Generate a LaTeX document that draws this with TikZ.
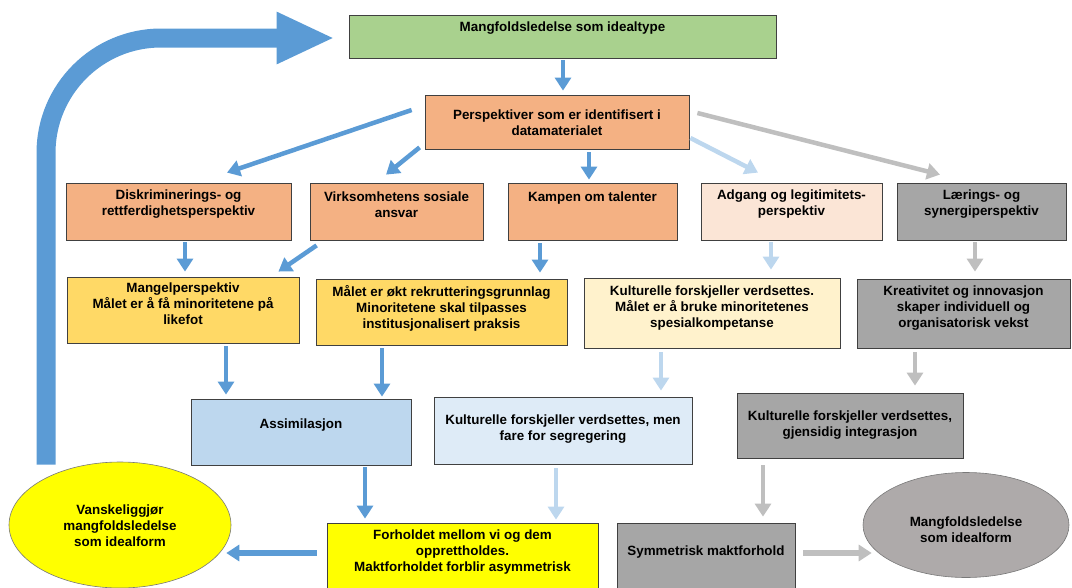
\documentclass[tikz,border=0pt]{standalone}
\usepackage{fontspec}
\setmainfont{Liberation Sans}
\usetikzlibrary{arrows.meta,calc,shapes.geometric}
\definecolor{cgreen}{HTML}{A9D18E}
\definecolor{corange}{HTML}{F4B183}
\definecolor{cpeach}{HTML}{FBE5D6}
\definecolor{cgold}{HTML}{FFD966}
\definecolor{clyellow}{HTML}{FFF2CC}
\definecolor{cgray}{HTML}{A6A6A6}
\definecolor{cblue}{HTML}{BDD7EE}
\definecolor{clblue}{HTML}{DEEBF7}
\definecolor{cyellow}{HTML}{FFFF00}
\definecolor{cegray}{HTML}{AEAAAA}
\definecolor{abl}{HTML}{5B9BD5}
\definecolor{alb}{HTML}{BDD7EE}
\definecolor{agr}{HTML}{BFBFBF}
\definecolor{cedge}{HTML}{404040}
\tikzset{
  box/.style={draw=cedge, line width=0.8pt, rectangle, inner sep=0pt},
  oval/.style={draw=cedge!70, line width=0.6pt, ellipse, inner sep=0pt},
  txt/.style={align=center, inner sep=0pt, font=\fontsize{13.4}{16}\selectfont\bfseries},
  arr/.style={line width=4.5pt, -{Triangle[length=13pt,width=16pt]}},
  blue arr/.style={arr, draw=abl, fill=abl},
  light arr/.style={arr, draw=alb, fill=alb},
  gray arr/.style={arr, draw=agr, fill=agr},
  bigarr/.style={draw=abl, line width=19pt, rounded corners=115pt, -{Triangle[length=58pt,width=48pt]}}
}
\begin{document}
\begin{tikzpicture}[x=1pt,y=-1pt]
\clip (0,0) rectangle (1072,587);
% boxes
\node[box, fill=cgreen, minimum width=427pt, minimum height=43pt] (G) at (562.5,36.5) {};
\node[txt] (Gt) at (562.5,28) {Mangfoldsledelse som idealtype};
\node[box, fill=corange, minimum width=264pt, minimum height=54pt] (O) at (557,122) {};
\node[txt] (Ot) at (557,123) {Perspektiver som er identifisert i\\datamaterialet};

\node[box, fill=corange, minimum width=225pt, minimum height=57pt] (D) at (178.5,211.5) {};
\node[txt] (Dt) at (178.5,204.5) {Diskriminerings- og\\rettferdighetsperspektiv};
\node[box, fill=corange, minimum width=173pt, minimum height=57pt] (V) at (396.5,211.5) {};
\node[txt] (Vt) at (396.5,204.5) {Virksomhetens sosiale\\ansvar};
\node[box, fill=corange, minimum width=169pt, minimum height=57pt] (K) at (592.5,211.5) {};
\node[txt] (Kt) at (592.5,198) {Kampen om talenter};
\node[box, fill=cpeach, minimum width=181pt, minimum height=57pt] (A) at (791.5,211.5) {};
\node[txt] (At) at (791.5,204.5) {Adgang og legitimitets-\\perspektiv};
\node[box, fill=cgray, minimum width=169pt, minimum height=57pt] (L) at (981.5,211.5) {};
\node[txt] (Lt) at (981.5,204.5) {Lærings- og\\synergiperspektiv};

\node[box, fill=cgold, minimum width=232pt, minimum height=66pt] (M) at (183,310) {};
\node[txt] (Mt) at (183,303.5) {Mangelperspektiv\\Målet er å få minoritetene på\\likefot};
\node[box, fill=cgold, minimum width=251pt, minimum height=66pt] (R) at (441.5,312) {};
\node[txt] (Rt) at (441.5,308) {Målet er økt rekrutteringsgrunnlag\\Minoritetene skal tilpasses\\institusjonalisert praksis};
\node[box, fill=clyellow, minimum width=256pt, minimum height=70pt] (C) at (712,313) {};
\node[txt] (Ct) at (712,308.5) {Kulturelle forskjeller verdsettes.\\Målet er å bruke minoritetenes\\spesialkompetanse};
\node[box, fill=cgray, minimum width=213pt, minimum height=69pt] (KR) at (963.5,313.5) {};
\node[txt] (KRt) at (963.5,308.5) {Kreativitet og innovasjon\\skaper individuell og\\organisatorisk vekst};

\node[box, fill=cblue, minimum width=220pt, minimum height=66pt] (AS) at (301,432) {};
\node[txt] (ASt) at (301,425) {Assimilasjon};
\node[box, fill=clblue, minimum width=258pt, minimum height=67pt] (S) at (563,430.5) {};
\node[txt] (St) at (563,429.5) {Kulturelle forskjeller verdsettes, men\\fare for segregering};
\node[box, fill=cgray, minimum width=226pt, minimum height=65pt] (GJ) at (850,425.5) {};
\node[txt] (GJt) at (850,425) {Kulturelle forskjeller verdsettes,\\gjensidig integrasjon};

\node[oval, fill=cyellow, minimum width=222pt, minimum height=126pt] (Y) at (120,525) {};
\node[txt] (Yt) at (120,526) {Vanskeliggjør\\mangfoldsledelse\\som idealform};
\node[box, fill=cyellow, minimum width=271pt, minimum height=69pt] (F) at (462.5,557.5) {};
\node[txt] (Ft) at (462.5,552.5) {Forholdet mellom vi og dem\\opprettholdes.\\Maktforholdet forblir asymmetrisk};
\node[box, fill=cgray, minimum width=178pt, minimum height=69pt] (SY) at (706,557.5) {};
\node[txt] (SYt) at (706,552) {Symmetrisk maktforhold};
\node[oval, fill=cegray, minimum width=206pt, minimum height=105pt] (GE) at (966,525) {};
\node[txt] (GEt) at (966,529.5) {Mangfoldsledelse\\som idealform};

% big feedback arrow
\draw[bigarr] ($(Y.north)+(-74,3)$) |- ($(G.west)+(-14,1.5)$);

% connectors
\draw[blue arr] ($(G.south)+(0.5,2)$) -- ($(O.north)+(6,-4)$);
\draw[blue arr] ($(O.west)+(-13,-12)$) -- ($(D.north)+(48.5,-10)$);
\draw[blue arr] ($(O.south west)+(-5,-2)$) -- ($(V.north)+(-10.5,-8)$);
\draw[blue arr] ($(O.south)+(32,3)$) -- ($(K.north)+(-3.5,-3)$);
\draw[light arr] ($(O.east)+(1,16)$) -- ($(A.north)+(-33.5,-10)$);
\draw[gray arr] ($(O.east)+(8,-9)$) -- ($(L.north)+(-41.5,-8)$);

\draw[blue arr] ($(D.south)+(6.5,2)$) -- ($(M.north)+(2,-5)$);
\draw[blue arr] ($(V.south west)+(7,5)$) -- ($(M.north east)+(-21,-5)$);
\draw[blue arr] ($(K.south)+(-52.5,3)$) -- ($(R.north)+(98.5,-6)$);
\draw[light arr] ($(A.south)+(-20.5,2)$) -- ($(C.north)+(59,-8)$);
\draw[gray arr] ($(L.south)+(-6.5,2)$) -- ($(KR.north)+(11.5,-7)$);

\draw[blue arr] ($(M.south)+(43,3)$) -- ($(AS.north)+(-75,-4)$);
\draw[blue arr] ($(R.south)+(-59.5,3)$) -- ($(AS.north)+(81,-2)$);
\draw[light arr] ($(C.south)+(-51,4)$) -- ($(S.north)+(98,-6)$);
\draw[gray arr] ($(KR.south)+(-48.5,4)$) -- ($(GJ.north)+(65,-7)$);

\draw[blue arr] ($(AS.south)+(64,2)$) -- ($(F.north)+(-97.5,-4)$);
\draw[light arr] ($(S.south)+(-7,4)$) -- ($(F.north)+(93.5,-3)$);
\draw[gray arr] ($(GJ.south)+(-87,7)$) -- ($(SY.north)+(57,-6)$);

\draw[blue arr, line width=6pt] ($(F.west)+(-10,-4.5)$) -- ($(Y.east)+(-5,28)$);
\draw[gray arr, line width=6.5pt] ($(SY.east)+(8,-4.5)$) -- ($(GE.west)+(9,28)$);
\end{tikzpicture}
\end{document}
